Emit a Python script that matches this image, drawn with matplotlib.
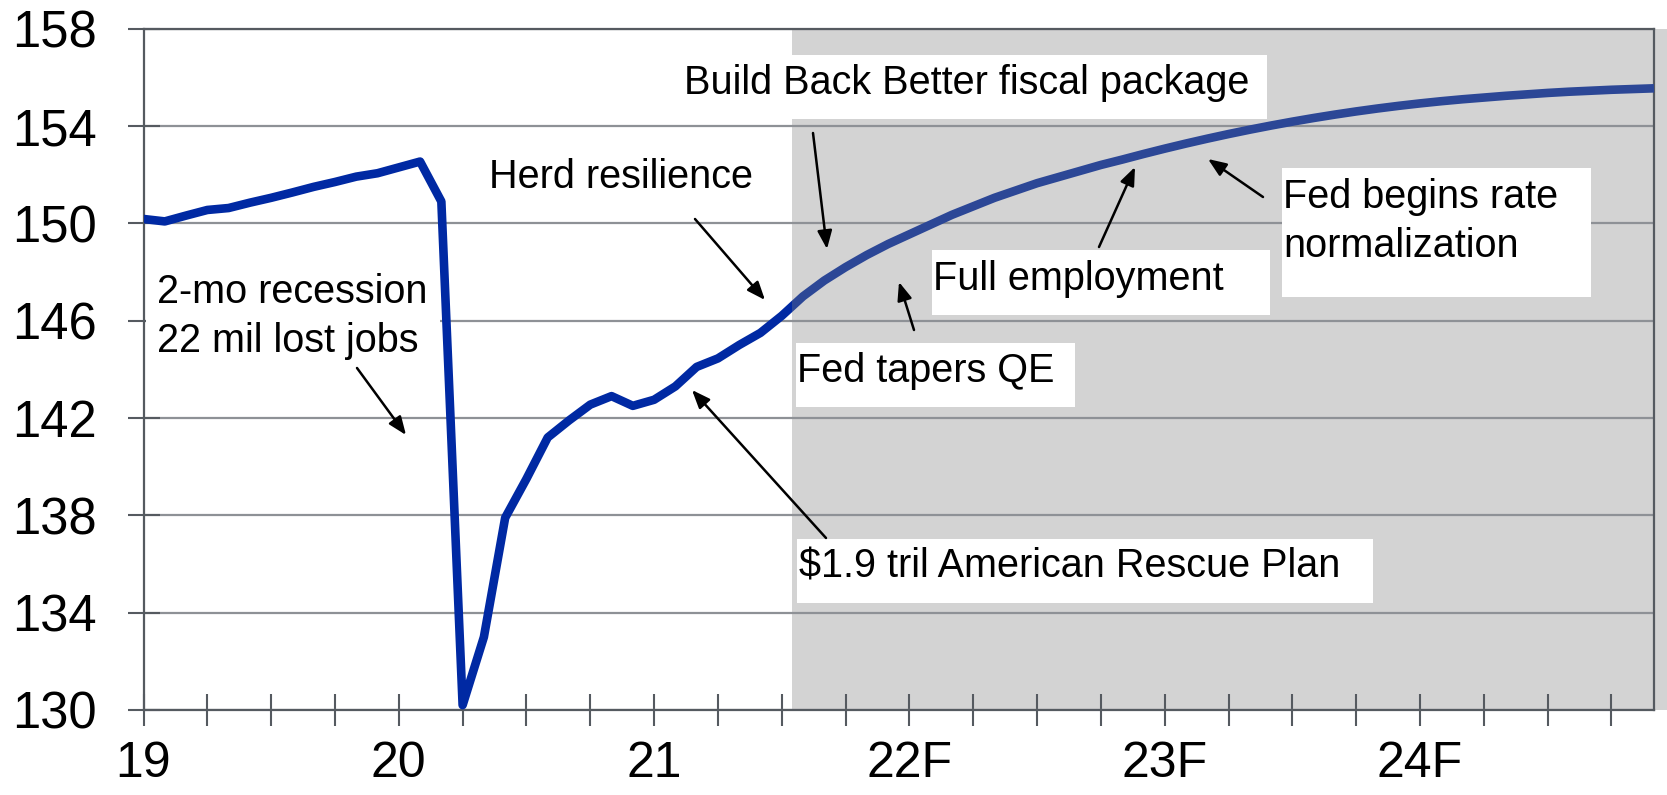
import numpy as np
import matplotlib
matplotlib.use("Agg")
import matplotlib.pyplot as plt
from matplotlib.patches import Rectangle

# ---------------- data ----------------
start_year = 19  # Jan 2019, monthly data
actual = [150.18, 150.08, 150.32, 150.55, 150.63, 150.85, 151.05, 151.27, 151.50, 151.70, 151.92, 152.06,
          152.30, 152.54, 150.90, 130.20, 133.00, 137.90, 139.50, 141.20, 141.90, 142.55, 142.90, 142.50,
          142.75, 143.30, 144.10, 144.45, 145.00, 145.50]
forecast = [146.20, 147.00, 147.65, 148.20, 148.70, 149.15,
            149.55, 149.95, 150.35, 150.70, 151.05, 151.35, 151.65, 151.90, 152.15, 152.40, 152.62, 152.85,
            153.07, 153.28, 153.48, 153.67, 153.85, 154.02, 154.18, 154.33, 154.47, 154.60, 154.72, 154.83,
            154.93, 155.02, 155.10, 155.17, 155.24, 155.30, 155.36, 155.41, 155.45, 155.49, 155.52, 155.55]
shade_start = 21.5417          # forecast shading begins mid-2021
year_ticks = [19, 20, 21, 22, 23, 24]
year_labels = ["19", "20", "21", "22F", "23F", "24F"]
y_ticks = [130, 134, 138, 142, 146, 150, 154, 158]

# ---------------- styles ----------------
HIST_C = "#0029A3"
FCST_C = "#2C4796"
SHADE_C = "#D3D3D3"
GRID_C = "#8E9196"
SPINE_C = "#555A60"
FONT = "Liberation Sans"

values = np.array(actual + forecast)
x = start_year + np.arange(len(values)) / 12.0
xmax = x[-1]

W, H = 1667, 795
fig = plt.figure(figsize=(W / 100, H / 100), dpi=100)
L, R, T, B = 143.5, 1654.0, 28.7, 710.0
ax = fig.add_axes([L / W, 1 - B / H, (R - L) / W, (B - T) / H])
ax.set_xlim(start_year, xmax)
ax.set_ylim(130, 158)

def p2d(px, py):
    """convert reference pixel position to data coordinates (layout helper)"""
    return (start_year + (px - L) / (R - L) * (xmax - start_year),
            158 - (py - T) / (B - T) * 28)

# shading (extends slightly past the right spine like the original)
ax.axvspan(shade_start, xmax + 0.2, color=SHADE_C, lw=0, zorder=1, clip_on=False)

# grid
ax.set_yticks(y_ticks)
ax.yaxis.grid(True, color=GRID_C, lw=1.6, zorder=1.5)
ax.xaxis.grid(False)

# line in two colours
lf, = ax.plot(x, values, color=FCST_C, lw=6.2, zorder=3, solid_capstyle="butt")
lh, = ax.plot(x, values, color=HIST_C, lw=6.2, zorder=3.1, solid_capstyle="butt")
lh.set_clip_path(Rectangle((start_year, 100), shade_start - start_year, 80, transform=ax.transData))
lf.set_clip_path(Rectangle((shade_start, 100), 10, 80, transform=ax.transData))

# spines & ticks
for s in ax.spines.values():
    s.set_color(SPINE_C)
    s.set_linewidth(1.6)
    s.set_zorder(2.5)

ax.set_xticks(year_ticks)
ax.set_xticklabels(year_labels)
ax.set_xticks([v + q for v in year_ticks for q in (0.25, 0.5, 0.75)], minor=True)
ax.tick_params(axis="x", which="both", direction="inout", length=23, width=1.5,
               color=SPINE_C, pad=11)
ax.tick_params(axis="y", which="both", direction="inout", length=23, width=1.5,
               color=SPINE_C, pad=22, right=False)
for t in ax.get_xticklabels():
    t.set_fontfamily(["Liberation Sans Narrow", FONT])
    t.set_fontsize(36)
for t in ax.get_yticklabels():
    t.set_fontfamily(FONT)
    t.set_fontsize(36.5)

# ---------------- annotations ----------------
FS = 28.5

def box(x0, y0, x1, y1):
    (dx0, dy0), (dx1, dy1) = p2d(x0, y1), p2d(x1, y0)
    ax.add_patch(Rectangle((dx0, dy0), dx1 - dx0, dy1 - dy0, facecolor="white",
                           edgecolor="none", zorder=2.2))

def txt(s, px, py):
    xx, yy = p2d(px, py)
    ax.text(xx, yy, s, fontsize=FS, family=FONT, ha="left", va="baseline", zorder=4)

def arrow(tail, head):
    ax.annotate("", xy=p2d(*head), xytext=p2d(*tail),
                arrowprops=dict(arrowstyle="-|>,head_length=0.55,head_width=0.22",
                                color="black", lw=1.8, shrinkA=0, shrinkB=0,
                                mutation_scale=20), zorder=4)

box(672, 55, 1267, 119)
txt("Build Back Better fiscal package", 684, 94)
arrow((813, 133), (827, 249))

txt("Herd resilience", 489, 188)
arrow((695, 219), (765, 300))

box(146, 262, 440, 372)
txt("2-mo recession", 157, 303)
txt("22 mil lost jobs", 157, 352)
arrow((357, 368), (406, 435))

box(796, 343, 1075, 407)
txt("Fed tapers QE", 797, 382)
arrow((914, 330), (899, 282))

box(932, 250, 1270, 315)
txt("Full employment", 933, 290)
arrow((1099, 247), (1135, 167))

box(1282, 168, 1591, 297)
txt("Fed begins rate", 1283, 208)
txt("normalization", 1283, 257)
arrow((1263, 197), (1208, 159))

box(797, 539, 1373, 603)
txt("$1.9 tril American Rescue Plan", 799, 578)
arrow((826, 538), (692, 390))

fig.savefig("out.png", dpi=100)
